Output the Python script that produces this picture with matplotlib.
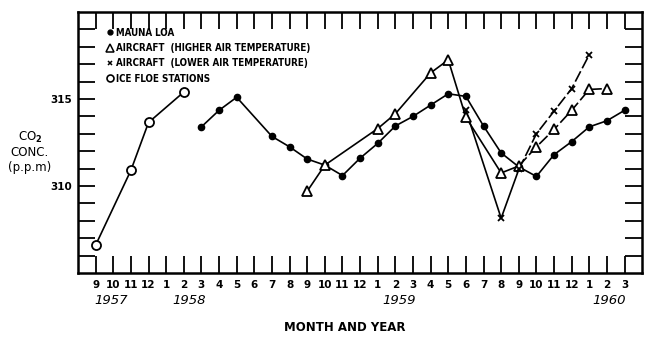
import matplotlib
matplotlib.use("Agg")
import matplotlib.pyplot as plt
from matplotlib.lines import Line2D

# month index: 0 = Sep 1957 ... 30 = Mar 1960
ice_x = [0, 2, 3, 5]
ice_y = [306.6, 310.9, 313.65, 315.4]

mauna_x = [6, 7, 8, 10, 11, 12, 13, 14, 15, 16, 17, 18, 19, 20, 21, 22, 23, 24, 25, 26, 27, 28, 29, 30]
mauna_y = [313.4, 314.35, 315.1, 312.85, 312.25, 311.55, 311.2, 310.6, 311.6, 312.45, 313.45, 314.0,
           314.65, 315.3, 315.15, 313.45, 311.9, 311.1, 310.55, 311.8, 312.55, 313.4, 313.75, 314.35]

high_x = [12, 13, 16, 17, 19, 20, 21, 23, 24, 25, 26, 27, 28, 29]
high_y = [309.7, 311.2, 313.3, 314.15, 316.5, 317.25, 313.95, 310.75, 311.15, 312.25, 313.25, 314.35, 315.55, 315.6]

low_x = [21, 23, 24, 25, 26, 27, 28]
low_y = [314.35, 308.15, 310.95, 313.0, 314.3, 315.6, 317.55]

month_labels = ['9', '10', '11', '12', '1', '2', '3', '4', '5', '6', '7', '8', '9', '10', '11', '12',
                '1', '2', '3', '4', '5', '6', '7', '8', '9', '10', '11', '12', '1', '2', '3']
year_labels = ['1957', '1958', '1959', '1960']
year_pos = [0.9, 5.3, 17.2, 29.1]

plt.rcParams['font.family'] = ['Liberation Sans Narrow', 'DejaVu Sans']
plt.rcParams['font.weight'] = 'bold'

fig = plt.figure(figsize=(6.5, 3.45), dpi=100)
ax = fig.add_axes([0.12, 0.2087, 0.868, 0.7565])

lw = 1.2
ax.plot(ice_x, ice_y, '-', color='black', lw=lw, marker='o', ms=6.5, mfc='white', mec='black', mew=1.3, zorder=3)
ax.plot(mauna_x, mauna_y, '-', color='black', lw=lw, marker='o', ms=4.5, mfc='black', mec='black', zorder=3)
ax.plot(high_x[:9], high_y[:9], '-', color='black', lw=lw, zorder=2)
ax.plot(high_x[8:], high_y[8:], color='black', lw=lw, dashes=(7, 2), zorder=2)
ax.plot(high_x, high_y, 'none', marker='^', ms=7.5, mfc='white', mec='black', mew=1.3, zorder=4)
ax.plot(low_x[:3], low_y[:3], '-', color='black', lw=lw, zorder=2)
ax.plot(low_x[2:], low_y[2:], color='black', lw=lw, dashes=(7, 2), zorder=2)
ax.plot(low_x, low_y, 'none', marker='x', ms=4.5, mec='black', mew=1.3, zorder=4)

ax.set_xlim(-1, 31)
ax.set_ylim(305, 320)
ax.set_xticks(range(len(month_labels)))
ax.set_xticklabels(month_labels, fontsize=7.5)
ax.set_yticks(range(306, 320))
ax.set_yticklabels(['310' if v == 310 else '315' if v == 315 else '' for v in range(306, 320)], fontsize=7.5)
ax.tick_params(direction='in', length=12, width=1.3, top=True, right=True, pad=4)
ax.tick_params(axis='x', pad=5)
for s in ax.spines.values():
    s.set_linewidth(1.8)

for lab, p in zip(year_labels, year_pos):
    ax.text(p, -0.08, lab, transform=ax.get_xaxis_transform(), ha='center', va='top',
            fontsize=9.5, style='italic', fontweight='normal')

fig.text(0.53, 0.05, 'MONTH AND YEAR', ha='center', va='center', fontsize=8.5)
fig.text(0.046, 0.56, 'CO$_2$\nCONC.\n(p.p.m)', ha='center', va='center', fontsize=8.5,
         linespacing=1.15, fontweight='normal')

handles = [
    Line2D([], [], ls='none', marker='o', ms=3.5, mfc='black', mec='black'),
    Line2D([], [], ls='none', marker='^', ms=5.5, mfc='white', mec='black', mew=1.1),
    Line2D([], [], ls='none', marker='x', ms=3.5, mec='black', mew=1.1),
    Line2D([], [], ls='none', marker='o', ms=5, mfc='white', mec='black', mew=1.2),
]
labels = ['MAUNA LOA', 'AIRCRAFT  (HIGHER AIR TEMPERATURE)',
          'AIRCRAFT  (LOWER AIR TEMPERATURE)', 'ICE FLOE STATIONS']
leg = ax.legend(handles, labels, loc='upper left', bbox_to_anchor=(0.045, 0.955), frameon=False,
                fontsize=7, handlelength=0.6, handletextpad=0.3, labelspacing=0.55, borderaxespad=0)
for t in leg.get_texts():
    t.set_fontstretch('condensed')

fig.savefig('out.png', dpi=100)
